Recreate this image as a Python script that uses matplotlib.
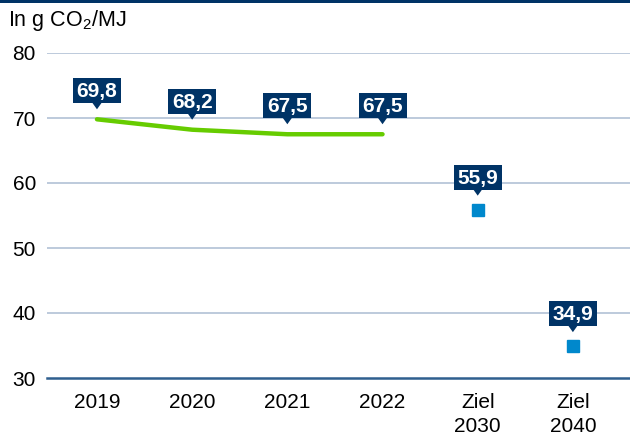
import numpy as np
import matplotlib
matplotlib.use("Agg")
import matplotlib.pyplot as plt
from matplotlib.patches import Rectangle, Polygon
from matplotlib.transforms import ScaledTranslation

plt.rcParams['font.family'] = ['Liberation Sans', 'DejaVu Sans']
plt.rcParams['mathtext.fontset'] = 'custom'
plt.rcParams['mathtext.rm'] = 'Liberation Sans'

# Data
categories = ["2019", "2020", "2021", "2022", "Ziel\n2030", "Ziel\n2040"]
actual_idx = [0, 1, 2, 3]
actual_vals = [69.8, 68.2, 67.5, 67.5]
target_idx = [4, 5]
target_vals = [55.9, 34.9]
yticks = [30, 40, 50, 60, 70, 80]

navy = "#003366"
green = "#66cc00"
blue_pt = "#0088cc"
grid_col = "#b7c6d9"
axis_col = "#2f5f8f"

fig = plt.figure(figsize=(6.3, 4.37), dpi=100)
ax = fig.add_axes([47/630, 1 - 378/437, 1 - 47/630, 325/437])

ax.plot(actual_idx, actual_vals, color=green, lw=3.2, solid_capstyle='round', zorder=3)
ax.plot(target_idx, target_vals, ls='none', marker='s', ms=8, color=blue_pt, zorder=3)

ax.set_ylim(30, 80)
ax.set_xlim(-0.525, 5.6)
ax.set_yticks(yticks)
ax.set_xticks(range(len(categories)))
ax.set_xticklabels(categories, linespacing=1.3)
ax.tick_params(axis='both', length=0)
ax.tick_params(axis='y', pad=8, labelsize=15)
ax.tick_params(axis='x', pad=11, labelsize=15)
for s in ['top', 'right', 'left']:
    ax.spines[s].set_visible(False)
ax.spines['bottom'].set_color(axis_col)
ax.spines['bottom'].set_linewidth(1.8)
ax.grid(axis='y', color=grid_col, lw=1.3)
ax.set_axisbelow(True)
ax.get_ygridlines()[0].set_visible(False)


def label(x, y, txt, gap):
    # box with pointer, sized in pixels relative to the data point
    px = fig.dpi_scale_trans + ScaledTranslation(x, y, ax.transData)
    d = 1 / fig.dpi
    w, h = 48, 25
    bottom = gap + 6
    ax.add_patch(Rectangle((-w / 2 * d, bottom * d), w * d, h * d,
                           transform=px, fc=navy, ec='none', zorder=5, clip_on=False))
    ax.add_patch(Polygon([(-5 * d, (bottom + 1) * d), (5 * d, (bottom + 1) * d),
                          (0, gap * d)], closed=True, transform=px,
                         fc=navy, ec='none', zorder=5, clip_on=False))
    ax.text(0, (bottom + 6) * d, txt, transform=px, ha='center', va='baseline',
            fontsize=15, fontweight='bold', color='white', zorder=6)


for i, v in zip(actual_idx, actual_vals):
    label(i, v, f"{v:.1f}".replace('.', ','), 10)
for i, v in zip(target_idx, target_vals):
    label(i, v, f"{v:.1f}".replace('.', ','), 14)

fig.text(8/630, 1 - 26/437, r"In g CO$_\mathregular{2}$/MJ", fontsize=15.5,
         ha='left', va='baseline')
fig.add_artist(Rectangle((0, 1 - 3/437), 1, 3/437, transform=fig.transFigure,
                         color=navy, lw=0))

fig.savefig("out.png", dpi=100)
